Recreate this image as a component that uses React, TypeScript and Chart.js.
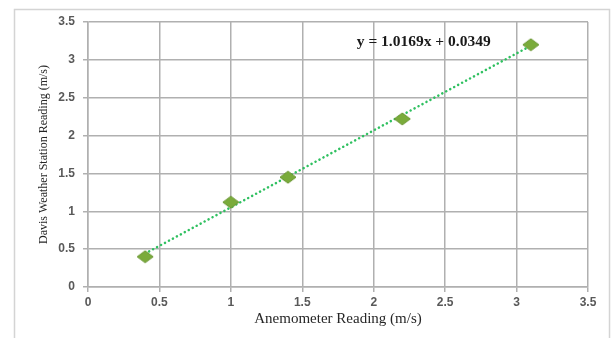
import React, { useEffect, useRef } from "react";
import { Chart, registerables } from "chart.js";

Chart.register(...registerables);

const anemometer = [0.4, 1.0, 1.4, 2.2, 3.1];
const davis = [0.4, 1.12, 1.45, 2.22, 3.2];
const trendX = [0.4, 3.1];
const trendY = [0.442, 3.187];
const equationText = "y = 1.0169x + 0.0349";
const equationPos = [2.35, 3.23];
const xTitle = "Anemometer Reading (m/s)";
const yTitle = "Davis Weather Station Reading (m/s)";

function makeDiamond(): HTMLCanvasElement {
  const c = document.createElement("canvas");
  c.width = 18;
  c.height = 14;
  const g = c.getContext("2d")!;
  g.beginPath();
  g.moveTo(9, 1);
  g.lineTo(17, 7);
  g.lineTo(9, 13);
  g.lineTo(1, 7);
  g.closePath();
  g.fillStyle = "#7aab3b";
  g.fill();
  g.strokeStyle = "#6a9632";
  g.lineWidth = 1;
  g.stroke();
  return c;
}

const framePlugin = {
  id: "frame",
  beforeDraw(chart: any) {
    const ctx = chart.ctx;
    ctx.save();
    ctx.fillStyle = "#ffffff";
    ctx.fillRect(0, 0, chart.width, chart.height);
    ctx.strokeStyle = "#d4d4d4";
    ctx.lineWidth = 1.5;
    ctx.strokeRect(14.5, 9.5, 595, 340);
    ctx.restore();
  },
};

const equationPlugin = {
  id: "equation",
  afterDatasetsDraw(chart: any) {
    const ctx = chart.ctx;
    const x = chart.scales.x.getPixelForValue(equationPos[0]);
    const y = chart.scales.y.getPixelForValue(equationPos[1]);
    ctx.save();
    ctx.font = "bold 15.5px 'Liberation Serif', 'Times New Roman', serif";
    ctx.fillStyle = "#1a1a1a";
    ctx.textAlign = "center";
    ctx.textBaseline = "middle";
    ctx.fillText(equationText, x, y);
    ctx.restore();
  },
};

export default function App() {
  const ref = useRef<HTMLCanvasElement>(null);
  useEffect(() => {
    const diamond = makeDiamond();
    const tickFont = { family: "'Liberation Sans', Arial, sans-serif", size: 12, weight: "bold" as const };
    const fmt = (v: any) => String(v);
    const chart = new Chart(ref.current!, {
      type: "scatter",
      data: {
        datasets: [
          {
            type: "line",
            data: trendX.map((x, i) => ({ x, y: trendY[i] })),
            borderColor: "#2fc060",
            borderWidth: 2.5,
            borderDash: [0.1, 4.4],
            borderCapStyle: "round",
            pointRadius: 0,
            fill: false,
            order: 2,
          } as any,
          {
            data: anemometer.map((x, i) => ({ x, y: davis[i] })),
            pointStyle: diamond as any,
            pointRadius: 8,
            backgroundColor: "#7aab3b",
            order: 1,
          },
        ],
      },
      options: {
        responsive: false,
        animation: false,
        layout: { padding: { left: 0, right: 25, top: 22, bottom: 0 } },
        plugins: { legend: { display: false }, tooltip: { enabled: false } },
        scales: {
          x: {
            type: "linear",
            min: 0,
            max: 3.5,
            ticks: { stepSize: 0.5, color: "#595959", font: tickFont, padding: 3, maxRotation: 0, callback: fmt },
            grid: { color: "#b0b0b0", lineWidth: 1.5, tickLength: 5 },
            border: { color: "#b0b0b0", width: 1.5 },
            title: {
              display: true,
              text: xTitle,
              color: "#262626",
              font: { family: "'Liberation Serif', 'Times New Roman', serif", size: 15 },
              padding: { top: 0, bottom: 10 },
            },
            afterFit: (s: any) => {
              s.height = 51;
            },
          },
          y: {
            type: "linear",
            min: 0,
            max: 3.5,
            ticks: { stepSize: 0.5, color: "#595959", font: tickFont, padding: 8, callback: fmt },
            grid: { color: "#b0b0b0", lineWidth: 1.5, tickLength: 5 },
            border: { color: "#b0b0b0", width: 1.5 },
            title: {
              display: true,
              text: yTitle,
              color: "#262626",
              font: { family: "'Liberation Serif', 'Times New Roman', serif", size: 12 },
              padding: { top: 37, bottom: 0 },
            },
            afterFit: (s: any) => {
              s.width = 88;
            },
          },
        },
      } as any,
      plugins: [framePlugin, equationPlugin],
    });
    return () => chart.destroy();
  }, []);
  return (
    <div style={{ position: "absolute", left: 0, top: 0, width: 613, height: 338 }}>
      <canvas ref={ref} width={613} height={338} />
    </div>
  );
}
